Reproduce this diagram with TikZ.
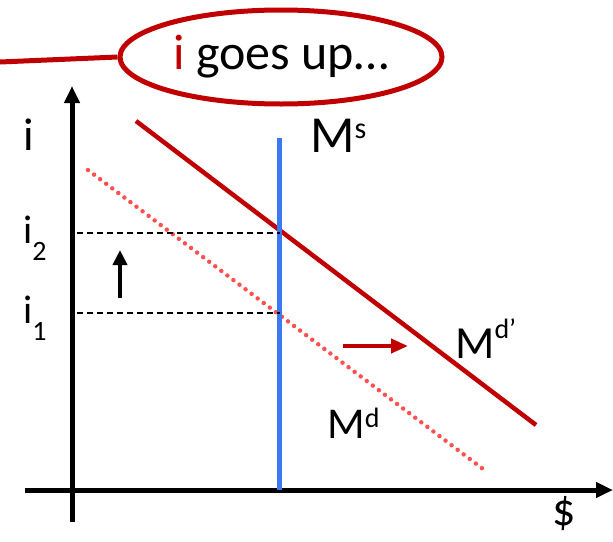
\documentclass[tikz,border=0pt]{standalone}
\usepackage{fontspec}
\setmainfont{Carlito}
\usetikzlibrary{shapes.geometric,arrows.meta}
\definecolor{dred}{RGB}{192,0,0}
\definecolor{lred}{RGB}{255,80,80}
\definecolor{sblue}{RGB}{60,120,240}
\tikzset{
  lbl/.style={inner sep=0pt},
  axis/.style={line width=5pt,-{Triangle[length=17pt,width=15pt]}},
  guide/.style={line width=1.5pt,dash pattern=on 6pt off 4pt},
}
\newcommand{\fs}[1]{\fontsize{#1}{#1}\selectfont}
\newcommand{\supx}[3]{\raisebox{#1pt}{\fs{#2}#3}}
\begin{document}
\begin{tikzpicture}[x=1pt,y=-1pt]
\useasboundingbox (0,0) rectangle (613,541);
% callout
\node[ellipse,draw=dred,line width=5pt,minimum width=322pt,minimum height=94pt,inner sep=0pt,font=\fs{50}] (call) at (281,57) {\textcolor{dred}{i} goes up…};
\coordinate (lend) at (0,62);
\draw[dred,line width=5pt] (lend) -- (call.west);
% axes
\coordinate (yb) at (72,522);
\coordinate (yt) at (72,86);
\coordinate (xl) at (25,490);
\coordinate (xr) at (613,490);
\draw[axis] (yb) -- (yt);
\draw[axis] (xl) -- (xr);
\node[lbl,anchor=base west,font=\fs{46}] (ilab) at (23,150) {i};
\node[lbl,font=\fs{46}] (dol) at (564,514) {\$};
% curves
\coordinate (ms1) at (279,138);
\coordinate (ms2) at (279,490);
\coordinate (d1) at (88,170);
\coordinate (d2) at (483,469);
\coordinate (dp1) at (136,121);
\coordinate (dp2) at (536,425);
\draw[lred,line width=4.5pt,line cap=round,dash pattern=on 0pt off 7.6pt] (d1) -- (d2);
\draw[dred,line width=4.5pt] (dp1) -- (dp2);
\draw[sblue,line width=5pt] (ms1) -- (ms2);
% guides
\coordinate (g2a) at (77,233);
\coordinate (g2b) at (280,233);
\coordinate (g1a) at (77,313);
\coordinate (g1b) at (280,313);
\draw[guide] (g2a) -- (g2b);
\draw[guide] (g1a) -- (g1b);
\node[lbl,anchor=base west,font=\fs{40}] (i2) at (23,243) {i\supx{-17}{28}{2}};
\node[lbl,anchor=base west,font=\fs{40}] (i1) at (23,323) {i\supx{-17}{28}{1}};
% labels
\node[lbl,anchor=base west,font=\fs{52}] (msl) at (310,152) {M\supx{14}{30}{s}};
\node[lbl,anchor=base west,font=\fs{46}] (mdp) at (455,358) {M\supx{20}{28}{d’}};
\node[lbl,anchor=base west,font=\fs{44}] (md) at (327,438) {M\supx{11}{28}{d}};
% shift arrows
\coordinate (ua) at (120,298);
\coordinate (ub) at (120,250);
\draw[line width=4pt,-{Triangle[length=15pt,width=14pt]}] (ua) -- (ub);
\coordinate (ra) at (343,346);
\coordinate (rb) at (408,346);
\draw[dred,line width=4pt,-{Triangle[length=17pt,width=14pt]}] (ra) -- (rb);
\end{tikzpicture}
\end{document}
